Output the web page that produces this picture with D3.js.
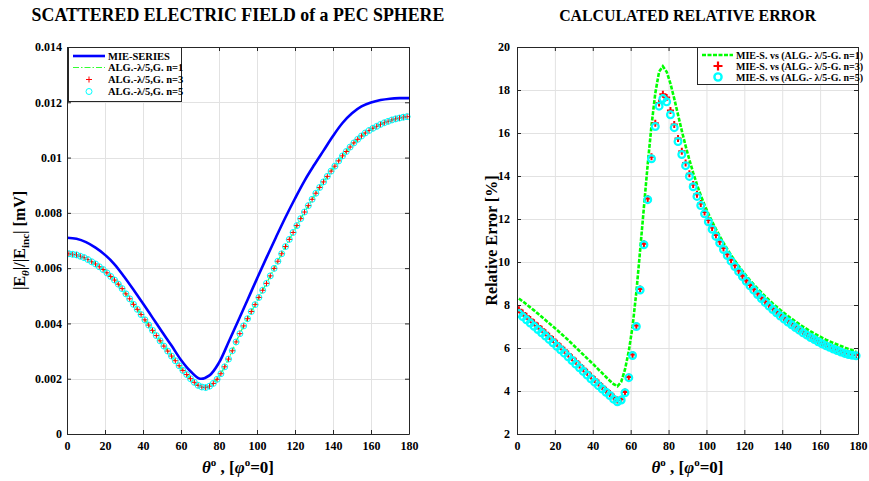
<!DOCTYPE html>
<html><head><meta charset="utf-8">
<script src="https://cdn.jsdelivr.net/npm/d3@7"></script>
<style>
body{margin:0;background:#fff;}
svg text{font-family:"Liberation Serif","Times New Roman",serif;fill:#000;}
</style></head><body>
<svg id="chart" width="869" height="481"></svg>
<script>
// ---------------- DATA ----------------
const xTicks = [0,20,40,60,80,100,120,140,160,180];
const xTickLabels = ["0","20","40","60","80","100","120","140","160","180"];
const leftYTicks = [0,0.002,0.004,0.006,0.008,0.01,0.012,0.014];
const leftYTickLabels = ["0","0.002","0.004","0.006","0.008","0.01","0.012","0.014"];
const rightYTicks = [2,4,6,8,10,12,14,16,18,20];
const rightYTickLabels = ["2","4","6","8","10","12","14","16","18","20"];

const leftTitle = "SCATTERED ELECTRIC FIELD of a PEC SPHERE";
const rightTitle = "CALCULATED RELATIVE ERROR";
const leftLegend = ["MIE-SERIES","ALG.-\u03bb/5,G. n=1","ALG.-\u03bb/5,G. n=3","ALG.-\u03bb/5,G. n=5"];
const rightLegend = ["MIE-S. vs (ALG.- \u03bb/5-G. n=1)","MIE-S. vs (ALG.- \u03bb/5-G. n=3)","MIE-S. vs (ALG.- \u03bb/5-G. n=5)"];

// theta for the Mie series curve
const thetaMie = [0,5,10,15,20,25,30,35,40,45,50,55,60,65,70,75,80,85,90,95,100,105,110,115,120,125,130,135,140,145,150,155,160,165,170,175,180];
const mieSeries = [.00710,.00706,.00694,.00674,.00648,.00614,.00570,.00522,.00472,.00421,.00370,.00320,.00268,.00227,.00200,.00212,.00258,.00332,.00408,.00485,.00562,.00638,.00712,.00784,.00852,.00916,.00972,.01025,.01078,.01125,.01160,.01185,.01199,.01208,.01213,.01215,.01215];

// theta samples of the algorithm results
const thetaAlg = [1,3,5,7,9,11,13,15,17,19,21,23,25,27,29,31,33,35,37,39,41,43,45,47,49,51,53,55,57,59,61,63,65,67,69,71,73,75,77,79,81,83,85,87,89,91,93,95,97,99,101,103,105,107,109,111,113,115,117,119,121,123,125,127,129,131,133,135,137,139,141,143,145,147,149,151,153,155,157,159,161,163,165,167,169,171,173,175,177,179];

const algN1 = [.00652,.00650,.00648,.00643,.00638,.00631,.00623,.00615,.00605,.00595,.00583,.00570,.00557,.00542,.00526,.00507,.00489,.00469,.00451,.00432,.00413,.00394,.00375,.00356,.00337,.00318,.00300,.00282,.00265,.00247,.00230,.00215,.00200,.00187,.00176,
.00170,.00168,.00173,.00183,.00198,.00218,.00243,.00271,.00301,.00333,.00363,.00391,.00417,.00443,.00468,.00494,.00520,.00545,.00572,.00599,.00625,.00652,.00678,.00704,.00729,.00754,.00779,.00803,.00826,.00849,.00871,.00892,.00912,.00932,.00951,.00969,.00988,.01006,.01022,.01038,.01053,.01066,.01078,.01089,.01098,.01106,.01113,.01120,.01126,.01131,.01136,.01140,.01143,.01146,.01148];
const algN3 = [.00652,.00650,.00648,.00643,.00638,.00631,.00623,.00615,.00605,.00595,.00583,.00570,.00557,.00542,.00526,.00507,.00489,.00469,.00451,.00432,.00413,.00394,.00375,.00356,.00337,.00318,.00300,.00282,.00265,.00247,.00230,.00215,.00200,.00187,.00176,
.00170,.00168,.00173,.00183,.00198,.00218,.00243,.00271,.00301,.00333,.00363,.00391,.00417,.00443,.00468,.00494,.00520,.00545,.00572,.00599,.00625,.00652,.00678,.00704,.00729,.00754,.00779,.00803,.00826,.00849,.00871,.00892,.00912,.00932,.00951,.00969,.00988,.01006,.01022,.01038,.01053,.01066,.01078,.01089,.01098,.01106,.01113,.01120,.01126,.01131,.01136,.01140,.01143,.01146,.01148];
const algN5 = [.00652,.00650,.00648,.00643,.00638,.00631,.00623,.00615,.00605,.00595,.00583,.00570,.00557,.00542,.00526,.00507,.00489,.00469,.00451,.00432,.00413,.00394,.00375,.00356,.00337,.00318,.00300,.00282,.00265,.00247,.00230,.00215,.00200,.00187,.00176,
.00170,.00168,.00173,.00183,.00198,.00218,.00243,.00271,.00301,.00333,.00363,.00391,.00417,.00443,.00468,.00494,.00520,.00545,.00572,.00599,.00625,.00652,.00678,.00704,.00729,.00754,.00779,.00803,.00826,.00849,.00871,.00892,.00912,.00932,.00951,.00969,.00988,.01006,.01022,.01038,.01053,.01066,.01078,.01089,.01098,.01106,.01113,.01120,.01126,.01131,.01136,.01140,.01143,.01146,.01148];

// relative error [%]
const errN1 = [8.30,8.17,8.03,7.89,7.75,7.60,7.45,7.30,7.15,7.00,6.85,6.69,6.53,6.37,6.20,6.03,5.86,5.69,5.52,5.35,5.18,5.00,4.83,4.65,4.48,4.32,4.22,
4.42,5.00,5.85,7.0,8.6,10.55,12.55,14.55,16.35,17.85,18.85,19.1,18.85,18.3,17.6,16.85,16.1,15.4,14.75,14.15,13.6,13.1,12.65,12.25,11.88,11.53,11.2,10.89,10.6,10.32,10.06,9.81,9.58,9.36,9.15,8.95,8.76,8.58,8.4,8.23,8.07,7.92,7.77,7.63,7.49,7.36,7.23,7.11,6.99,6.88,6.77,6.67,6.57,6.48,6.39,6.31,6.23,6.16,6.09,6.02,5.96,5.9,5.85];
const errN3 = [7.78,7.63,7.48,7.33,7.18,7.02,6.87,6.71,6.55,6.39,6.22,6.06,5.89,5.72,5.55,5.38,5.21,5.04,4.87,4.70,4.53,4.37,4.20,4.04,3.88,3.72,3.58,
3.62,3.95,4.65,5.7,7.05,8.75,10.85,12.95,14.9,16.45,17.4,17.8,17.65,17.05,16.4,15.75,15.15,14.6,14.1,13.6,13.15,12.72,12.32,11.95,11.6,11.26,10.95,10.65,10.36,10.1,9.85,9.6,9.36,9.14,8.93,8.73,8.53,8.34,8.16,7.99,7.83,7.68,7.53,7.39,7.25,7.12,6.99,6.87,6.75,6.64,6.53,6.43,6.33,6.24,6.15,6.07,5.99,5.92,5.85,5.79,5.74,5.70,5.68];
const errN5 = [7.60,7.46,7.31,7.16,7.01,6.86,6.71,6.56,6.40,6.24,6.08,5.92,5.76,5.59,5.42,5.25,5.08,4.91,4.74,4.57,4.41,4.25,4.09,3.94,3.79,3.62,3.50,
3.58,3.92,4.62,5.65,7.0,8.7,10.8,12.9,14.8,16.3,17.25,17.6,17.45,16.85,16.25,15.6,15.0,14.48,13.98,13.5,13.05,12.63,12.24,11.87,11.52,11.19,10.88,10.58,10.3,10.04,9.79,9.55,9.32,9.1,8.89,8.69,8.49,8.3,8.12,7.95,7.79,7.64,7.49,7.35,7.21,7.08,6.95,6.83,6.71,6.6,6.49,6.39,6.29,6.2,6.11,6.03,5.95,5.88,5.81,5.75,5.7,5.66,5.64];

// ---------------- DRAWING ----------------
const svg = d3.select("#chart");
const AXC = "#262626", GRID = "#e2e2e2";
const BLUE = "#0000ff", GREEN = "#00ff00", LGREEN = "#33ff33", RED = "#ff0000", CYAN = "#00ffff";

function panel(cfg){
  const g = svg.append("g");
  const x = d3.scaleLinear().domain([0,180]).range([cfg.x0,cfg.x1]);
  const y = d3.scaleLinear().domain(cfg.yDom).range([434,47]);
  const [X0,X1] = x.range(), [Y0,Y1] = y.range();
  g.append("rect").attr("x",X0).attr("y",Y1).attr("width",X1-X0).attr("height",Y0-Y1).attr("fill","#fff");
  // grid
  g.append("g").selectAll("line").data(xTicks.slice(1,-1)).join("line")
    .attr("x1",d=>x(d)+0.5).attr("x2",d=>x(d)+0.5).attr("y1",Y1).attr("y2",Y0)
    .attr("stroke",GRID).attr("stroke-width",1);
  g.append("g").selectAll("line").data(cfg.yTicks.slice(1,-1)).join("line")
    .attr("y1",d=>Math.round(y(d))+0.5).attr("y2",d=>Math.round(y(d))+0.5).attr("x1",X0).attr("x2",X1)
    .attr("stroke",GRID).attr("stroke-width",1);
  const clipId = "clip"+cfg.id;
  svg.append("clipPath").attr("id",clipId).append("rect")
    .attr("x",X0).attr("y",Y1-3).attr("width",X1-X0+4).attr("height",Y0-Y1+6);
  const plot = g.append("g").attr("clip-path",`url(#${clipId})`);
  cfg.draw(plot,x,y);
  // axes
  const ax = (sel)=>{sel.selectAll("path.domain").attr("stroke",AXC);sel.selectAll(".tick line").attr("stroke",AXC);
    sel.selectAll("text").attr("font-size",12).attr("font-weight","bold").attr("fill","#000")
      .attr("font-family",'"Liberation Serif","Times New Roman",serif');};
  g.append("g").attr("transform",`translate(0,${Y0})`)
    .call(d3.axisBottom(x).tickValues(xTicks).tickFormat((d,i)=>xTickLabels[i]).tickSizeInner(-4).tickSizeOuter(0).tickPadding(7)).call(ax);
  g.append("g").attr("transform",`translate(0,${Y1})`)
    .call(d3.axisTop(x).tickValues(xTicks).tickFormat("").tickSizeInner(-4).tickSizeOuter(0)).call(ax);
  g.append("g").attr("transform",`translate(${X0},0)`)
    .call(d3.axisLeft(y).tickValues(cfg.yTicks).tickFormat((d,i)=>cfg.yLabels[i]).tickSizeInner(-4).tickSizeOuter(0).tickPadding(cfg.yPad)).call(ax);
  g.append("g").attr("transform",`translate(${X1},0)`)
    .call(d3.axisRight(y).tickValues(cfg.yTicks).tickFormat("").tickSizeInner(-4).tickSizeOuter(0)).call(ax);
  // title
  const t = g.append("text").attr("x",(X0+X1)/2).attr("y",21).attr("text-anchor","middle")
    .attr("font-weight","bold").attr("font-size",17).text(cfg.title);
  const w = t.node().getComputedTextLength();
  t.attr("font-size",17*cfg.titleW/w);
  // x label
  const xl = g.append("text").attr("x",(X0+X1)/2).attr("y",473).attr("text-anchor","middle")
    .attr("font-size",17).attr("font-weight","bold");
  xl.append("tspan").attr("font-style","italic").text("\u03b8");
  xl.append("tspan").attr("font-size",11).attr("dy",-7).text("o");
  xl.append("tspan").attr("dy",7).text(" , [");
  xl.append("tspan").attr("font-style","italic").text("\u03c6");
  xl.append("tspan").attr("font-size",11).attr("dy",-7).text("o");
  xl.append("tspan").attr("dy",7).text("=0]");
  cfg.ylabel(g,(Y0+Y1)/2);
  return {g,x,y};
}

function symPlus(sel,s){return sel.append("path").attr("d",`M${-s},0H${s}M0,${-s}V${s}`);}

// ---------- left panel ----------
panel({id:"L",x0:67,x1:409,yDom:[0,0.014],yTicks:leftYTicks,yLabels:leftYTickLabels,yPad:5,
  title:leftTitle,titleW:413,
  draw:(p,x,y)=>{
    p.append("path").datum(d3.zip(thetaMie,mieSeries))
      .attr("d",d3.line().x(d=>x(d[0])).y(d=>y(d[1])).curve(d3.curveCatmullRom))
      .attr("fill","none").attr("stroke",BLUE).attr("stroke-width",2.6);
    p.append("path").datum(d3.zip(thetaAlg,algN1))
      .attr("d",d3.line().x(d=>x(d[0])).y(d=>y(d[1])))
      .attr("fill","none").attr("stroke",LGREEN).attr("stroke-width",1.2).attr("stroke-dasharray","6,2,1.5,2");
    p.append("g").selectAll("path").data(d3.zip(thetaAlg,algN3)).join("path")
      .attr("transform",d=>`translate(${x(d[0])},${y(d[1])})`).attr("d","M-3,0H3M0,-3V3")
      .attr("stroke",RED).attr("stroke-width",1).attr("fill","none");
    p.append("g").selectAll("circle").data(d3.zip(thetaAlg,algN5)).join("circle")
      .attr("cx",d=>x(d[0])).attr("cy",d=>y(d[1])).attr("r",3)
      .attr("stroke",CYAN).attr("stroke-width",1).attr("fill","none");
  },
  ylabel:(g,cy)=>{
    const t = g.append("text").attr("transform",`translate(25,${cy}) rotate(-90)`).attr("text-anchor","middle")
      .attr("font-size",16).attr("font-weight","bold");
    t.append("tspan").text("|E");
    t.append("tspan").attr("font-style","italic").attr("font-size",11).attr("dy",4).text("\u03b8");
    t.append("tspan").attr("dy",-4).text("|/|E");
    t.append("tspan").attr("font-size",11).attr("dy",4).text("inc");
    t.append("tspan").attr("dy",-4).text("| [mV]");
  }
});

// ---------- right panel ----------
panel({id:"R",x0:517,x1:858,yDom:[2,20],yTicks:rightYTicks,yLabels:rightYTickLabels,yPad:7,
  title:rightTitle,titleW:257,
  draw:(p,x,y)=>{
    p.append("path").datum(d3.zip(thetaAlg,errN1))
      .attr("d",d3.line().x(d=>x(d[0])).y(d=>y(d[1])))
      .attr("fill","none").attr("stroke",GREEN).attr("stroke-width",2.6).attr("stroke-dasharray","4,1.5");
    p.append("g").selectAll("path").data(d3.zip(thetaAlg,errN3)).join("path")
      .attr("transform",d=>`translate(${x(d[0])},${y(d[1])})`).attr("d","M-3.5,0H3.5M0,-3.5V3.5")
      .attr("stroke",RED).attr("stroke-width",2).attr("fill","none");
    p.append("g").selectAll("circle").data(d3.zip(thetaAlg,errN5)).join("circle")
      .attr("cx",d=>x(d[0])).attr("cy",d=>y(d[1])).attr("r",3.4)
      .attr("stroke",CYAN).attr("stroke-width",2.2).attr("fill","none");
  },
  ylabel:(g,cy)=>{
    g.append("text").attr("transform",`translate(497,${cy}) rotate(-90)`).attr("text-anchor","middle")
      .attr("font-size",16).attr("font-weight","bold").text("Relative Error [%]");
  }
});

// ---------- legends ----------
function legendBox(x,y,w,h){
  svg.append("rect").attr("x",x+0.5).attr("y",y+0.5).attr("width",w).attr("height",h)
    .attr("fill","#fff").attr("stroke",AXC).attr("stroke-width",1);
}
// left legend
legendBox(68,47,113,54);
const Lrows=[56,67.5,79.5,91.5];
svg.append("line").attr("x1",73).attr("x2",105).attr("y1",Lrows[0]).attr("y2",Lrows[0]).attr("stroke",BLUE).attr("stroke-width",2.6);
svg.append("line").attr("x1",73).attr("x2",105).attr("y1",Lrows[1]).attr("y2",Lrows[1]).attr("stroke",LGREEN).attr("stroke-width",1.2).attr("stroke-dasharray","6,2,1.5,2");
symPlus(svg.append("g").attr("transform",`translate(89,${Lrows[2]})`),3).attr("stroke",RED).attr("stroke-width",1);
svg.append("circle").attr("cx",89).attr("cy",Lrows[3]).attr("r",3).attr("fill","none").attr("stroke",CYAN).attr("stroke-width",1);
leftLegend.forEach((s,i)=>svg.append("text").attr("x",108).attr("y",Lrows[i]+3.5).attr("font-size",10.5).attr("font-weight","bold").text(s));

// right legend
legendBox(697,47,161,37);
const Rrows=[55,66,77];
svg.append("line").attr("x1",702).attr("x2",733).attr("y1",Rrows[0]).attr("y2",Rrows[0]).attr("stroke",GREEN).attr("stroke-width",2.6).attr("stroke-dasharray","4,1.5");
symPlus(svg.append("g").attr("transform",`translate(718,${Rrows[1]})`),4.5).attr("stroke",RED).attr("stroke-width",2.2);
svg.append("circle").attr("cx",718).attr("cy",Rrows[2]).attr("r",3.6).attr("fill","none").attr("stroke",CYAN).attr("stroke-width",2.4);
rightLegend.forEach((s,i)=>svg.append("text").attr("x",736).attr("y",Rrows[i]+3.5).attr("font-size",10).attr("font-weight","bold").text(s));
</script>
</body></html>
